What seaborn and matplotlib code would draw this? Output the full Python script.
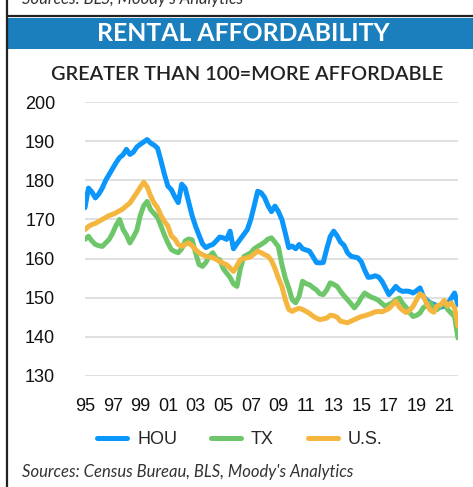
import numpy as np
import pandas as pd
import matplotlib
matplotlib.use('Agg')
import matplotlib.pyplot as plt
import seaborn as sns
from matplotlib.lines import Line2D

# quarterly, 1995Q1 - 2022Q1
quarters = [1995 + i / 4 for i in range(109)]

hou = [173.0, 178.0, 177.0, 175.5, 176.5, 178.0, 180.0, 181.5, 183.0, 184.5,
       185.8, 186.5, 187.9, 186.6, 187.2, 188.5, 189.2, 189.8, 190.4, 189.5,
       189.0, 188.2, 185.0, 181.5, 178.5, 177.6, 175.8, 174.3, 179.0, 178.0,
       174.5, 171.0, 168.3, 166.0, 163.8, 162.8, 163.3, 163.6, 164.5, 165.5,
       165.3, 164.9, 167.0, 162.5, 163.8, 165.0, 166.2, 167.4, 170.0, 173.5,
       177.2, 176.8, 175.6, 173.5, 172.0, 173.4, 172.0, 170.0, 166.5, 162.8,
       163.2, 162.5, 163.6, 162.5, 162.2, 161.9, 160.5, 159.0, 158.9, 159.0,
       162.5, 165.6, 167.0, 165.8, 164.2, 163.4, 161.5, 160.6, 160.4, 160.2,
       159.2, 157.0, 155.2, 155.3, 155.6, 155.3, 154.2, 152.5, 150.8, 151.8,
       152.9, 152.0, 151.6, 151.7, 151.6, 151.2, 151.8, 152.5, 150.3, 149.3,
       148.7, 148.3, 148.0, 147.6, 147.8, 148.5, 149.8, 151.2, 148.2]

tx = [164.9, 165.7, 164.5, 163.6, 163.3, 163.1, 164.0, 164.9, 166.5, 168.5,
      170.0, 167.5, 166.0, 164.0, 165.5, 167.2, 171.0, 173.5, 174.6, 172.5,
      171.5, 170.5, 168.3, 166.0, 164.0, 162.3, 161.8, 161.5, 162.5, 164.5,
      165.0, 164.8, 161.5, 158.5, 158.0, 159.0, 160.6, 161.5, 160.0, 159.7,
      157.5, 156.3, 155.2, 153.5, 152.9, 157.5, 160.5, 161.0, 161.5, 162.5,
      163.1, 163.6, 164.2, 165.0, 165.3, 164.2, 163.0, 158.5, 155.0, 152.5,
      149.5, 148.7, 150.4, 154.2, 153.6, 153.3, 152.6, 152.0, 151.0, 150.8,
      152.0, 153.8, 153.4, 152.9, 151.6, 150.5, 149.5, 148.5, 147.4, 148.5,
      150.0, 151.2, 150.6, 150.1, 149.8, 149.3, 148.5, 147.8, 148.3, 148.7,
      149.5, 149.9, 148.5, 147.5, 146.2, 145.2, 145.5, 146.1, 147.5, 148.0,
      148.7, 147.5, 147.0, 148.0, 148.7, 147.0, 146.1, 145.2, 139.7]

us = [167.4, 168.2, 168.7, 169.0, 169.5, 170.0, 170.5, 171.0, 171.3, 171.7,
      172.2, 172.7, 173.5, 174.2, 175.5, 176.8, 178.2, 179.5, 178.3, 176.0,
      174.2, 173.0, 171.0, 169.5, 168.3, 165.8, 165.0, 163.6, 163.1, 163.6,
      164.0, 163.3, 162.3, 161.5, 161.0, 160.6, 160.4, 160.2, 159.8, 159.3,
      158.8, 158.4, 157.6, 156.7, 158.2, 159.7, 160.0, 160.2, 160.5, 161.2,
      161.9, 161.5, 161.0, 160.6, 159.5, 157.5, 155.0, 152.9, 149.5, 147.0,
      146.5, 147.0, 147.3, 147.0, 146.5, 146.0, 145.3, 144.8, 144.4, 144.6,
      144.8, 145.5, 145.4, 145.0, 144.0, 143.8, 143.6, 144.0, 144.4, 144.8,
      145.2, 145.4, 145.7, 146.0, 146.4, 146.5, 146.4, 146.8, 147.2, 148.2,
      149.1, 147.6, 146.8, 146.2, 146.8, 147.8, 149.5, 151.0, 150.4, 148.3,
      146.8, 146.3, 148.0, 148.2, 149.3, 147.9, 148.7, 147.4, 142.7]

series_names = ['HOU', 'TX', 'U.S.']
colors = {'HOU': '#0A96FA', 'TX': '#6DC76A', 'U.S.': '#F4B63F'}
year_ticks = list(range(1995, 2022, 2))

df = pd.concat([
    pd.DataFrame({'date': quarters, 'value': vals, 'series': name})
    for name, vals in zip(series_names, [hou, tx, us])
])

sns.set_style('white')
plt.rcParams['font.family'] = ['Liberation Sans', 'DejaVu Sans']

fig = plt.figure(figsize=(4.73, 4.87), dpi=100)
ax = fig.add_axes([85 / 473, 1 - 376 / 487, 373 / 473, 274 / 487])

sns.lineplot(data=df, x='date', y='value', hue='series', palette=colors,
             linewidth=3.6, ax=ax, legend=False, zorder=3)

ax.set_xlim(quarters[0], quarters[-1])
ax.set_ylim(130, 200)
ax.set_yticks(range(130, 201, 10))
ax.set_xticks(year_ticks)
ax.set_xticklabels([f'{y % 100:02d}' for y in year_ticks])
ax.tick_params(axis='y', length=0, pad=21.5, labelsize=13, labelcolor='#111111')
ax.tick_params(axis='x', length=0, pad=16, labelsize=13, labelcolor='#111111')
ax.grid(axis='y', color='#DDDDDD', linewidth=1.3, zorder=0)
ax.grid(axis='x', visible=False)
ax.set_xlabel('')
ax.set_ylabel('')
for s in ax.spines.values():
    s.set_visible(False)

# legend
handles = [Line2D([0], [0], color=colors[n], linewidth=3.6) for n in series_names]
fig.legend(handles, series_names, loc='center', bbox_to_anchor=(240 / 473, 1 - 440 / 487),
           ncol=3, frameon=False, fontsize=13, handlelength=1.65, handletextpad=0.55,
           columnspacing=1.9)

# frame pieces, banner and texts
fig.add_artist(plt.Line2D([7 / 473, 7 / 473], [0, 1], color='#222222', linewidth=1.6))
fig.add_artist(plt.Line2D([7 / 473, 1], [1 - 15.5 / 487, 1 - 15.5 / 487], color='#222222', linewidth=1.6))
fig.add_artist(plt.Rectangle((8 / 473, 1 - 48.5 / 487), 1, 31 / 487,
                             transform=fig.transFigure, color='#1A7FBC', lw=0))
fig.text(243 / 473, 1 - 33 / 487, 'RENTAL AFFORDABILITY', ha='center', va='center',
         color='white', fontsize=17.8, fontweight='bold', family=['Lato', 'DejaVu Sans'])
fig.text(247 / 473, 1 - 75 / 487, 'GREATER THAN 100=MORE AFFORDABLE', ha='center', va='center',
         color='#222222', fontsize=14.3, fontweight='semibold', family=['Lato', 'DejaVu Sans'])
fig.text(22 / 473, 1 - 4 / 487, "Sources: BLS, Moody's Analytics", ha='left', va='baseline',
         color='#333333', fontsize=12, style='italic', family=['Lato', 'DejaVu Sans'])
fig.text(22 / 473, 1 - 477 / 487, "Sources: Census Bureau, BLS, Moody's Analytics", ha='left',
         va='baseline', color='#333333', fontsize=12, style='italic', family=['Lato', 'DejaVu Sans'])

fig.savefig('out.png', dpi=100, facecolor='white')
